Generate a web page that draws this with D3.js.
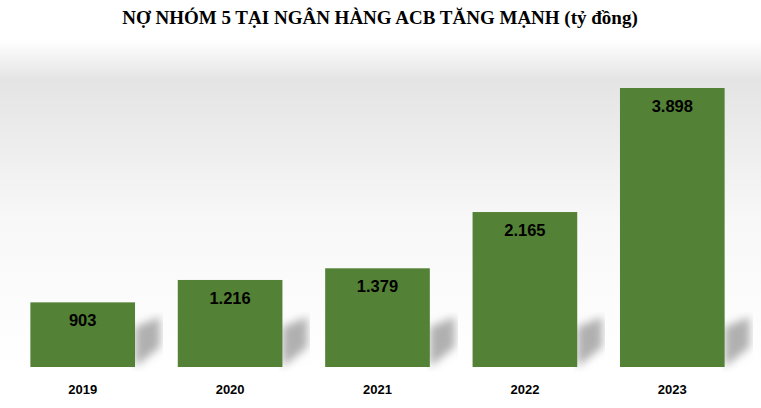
<!DOCTYPE html>
<html><head><meta charset="utf-8">
<script src="https://cdn.jsdelivr.net/npm/d3@7"></script>
<style>body{margin:0;background:#fff}</style>
</head><body>
<svg id="c" width="761" height="408"></svg>
<script>
const years = ["2019", "2020", "2021", "2022", "2023"];
const values = [903, 1216, 1379, 2165, 3898];
const labels = ["903", "1.216", "1.379", "2.165", "3.898"];

const svg = d3.select("#c");
const defs = svg.append("defs");
const grad = defs.append("linearGradient").attr("id", "bg").attr("x1", 0).attr("y1", 0).attr("x2", 0).attr("y2", 1);
grad.append("stop").attr("offset", "0%").attr("stop-color", "#fff");
grad.append("stop").attr("offset", "12%").attr("stop-color", "#e4e4e4");
grad.append("stop").attr("offset", "55%").attr("stop-color", "#f8f8f8");
grad.append("stop").attr("offset", "100%").attr("stop-color", "#fff");
defs.append("filter").attr("id", "blur").append("feGaussianBlur").attr("stdDeviation", 4);

svg.append("rect").attr("x", 0).attr("y", 40).attr("width", 761).attr("height", 330).attr("fill", "url(#bg)");

const x = d3.scaleBand().domain(years).range([9, 746]).paddingInner(0.29).paddingOuter(0.145);
const y = d3.scaleLinear().domain([0, 3898]).range([367, 88]);

// shadows
svg.append("g").selectAll("path").data(years).join("path")
  .attr("d", d => {
    const x0 = x(d) + x.bandwidth(), b = y(0);
    return `M${x0},${b} L${x0},${b - 40} L${x0 + 25},${b - 50} L${x0 + 25},${b - 20} Z`;
  })
  .attr("fill", "#b0b0b0").attr("filter", "url(#blur)");

svg.append("g").selectAll("rect").data(values).join("rect")
  .attr("x", (d, i) => x(years[i])).attr("y", d => y(d))
  .attr("width", x.bandwidth()).attr("height", d => y(0) - y(d))
  .attr("fill", "#538135");

svg.append("g").selectAll("text").data(values).join("text")
  .attr("x", (d, i) => x(years[i]) + x.bandwidth() / 2).attr("y", d => y(d) + 24)
  .attr("text-anchor", "middle").attr("font-family", "Liberation Sans, Arial").attr("font-weight", "bold")
  .attr("font-size", 16.5).attr("fill", "#000").text((d, i) => labels[i]);

const ax = svg.append("g").attr("transform", `translate(0,${y(0)})`).call(d3.axisBottom(x).tickSize(0).tickPadding(18));
ax.select(".domain").remove();
ax.selectAll("text").attr("font-family", "Liberation Sans, Arial").attr("font-weight", "bold").attr("font-size", 13).attr("fill", "#000");

svg.append("text").attr("x", 380).attr("y", 24).attr("text-anchor", "middle")
  .attr("font-family", "Liberation Serif, Times New Roman").attr("font-weight", "bold").attr("font-size", 19)
  .text("NỢ NHÓM 5 TẠI NGÂN HÀNG ACB TĂNG MẠNH (tỷ đồng)");
</script>
</body></html>
